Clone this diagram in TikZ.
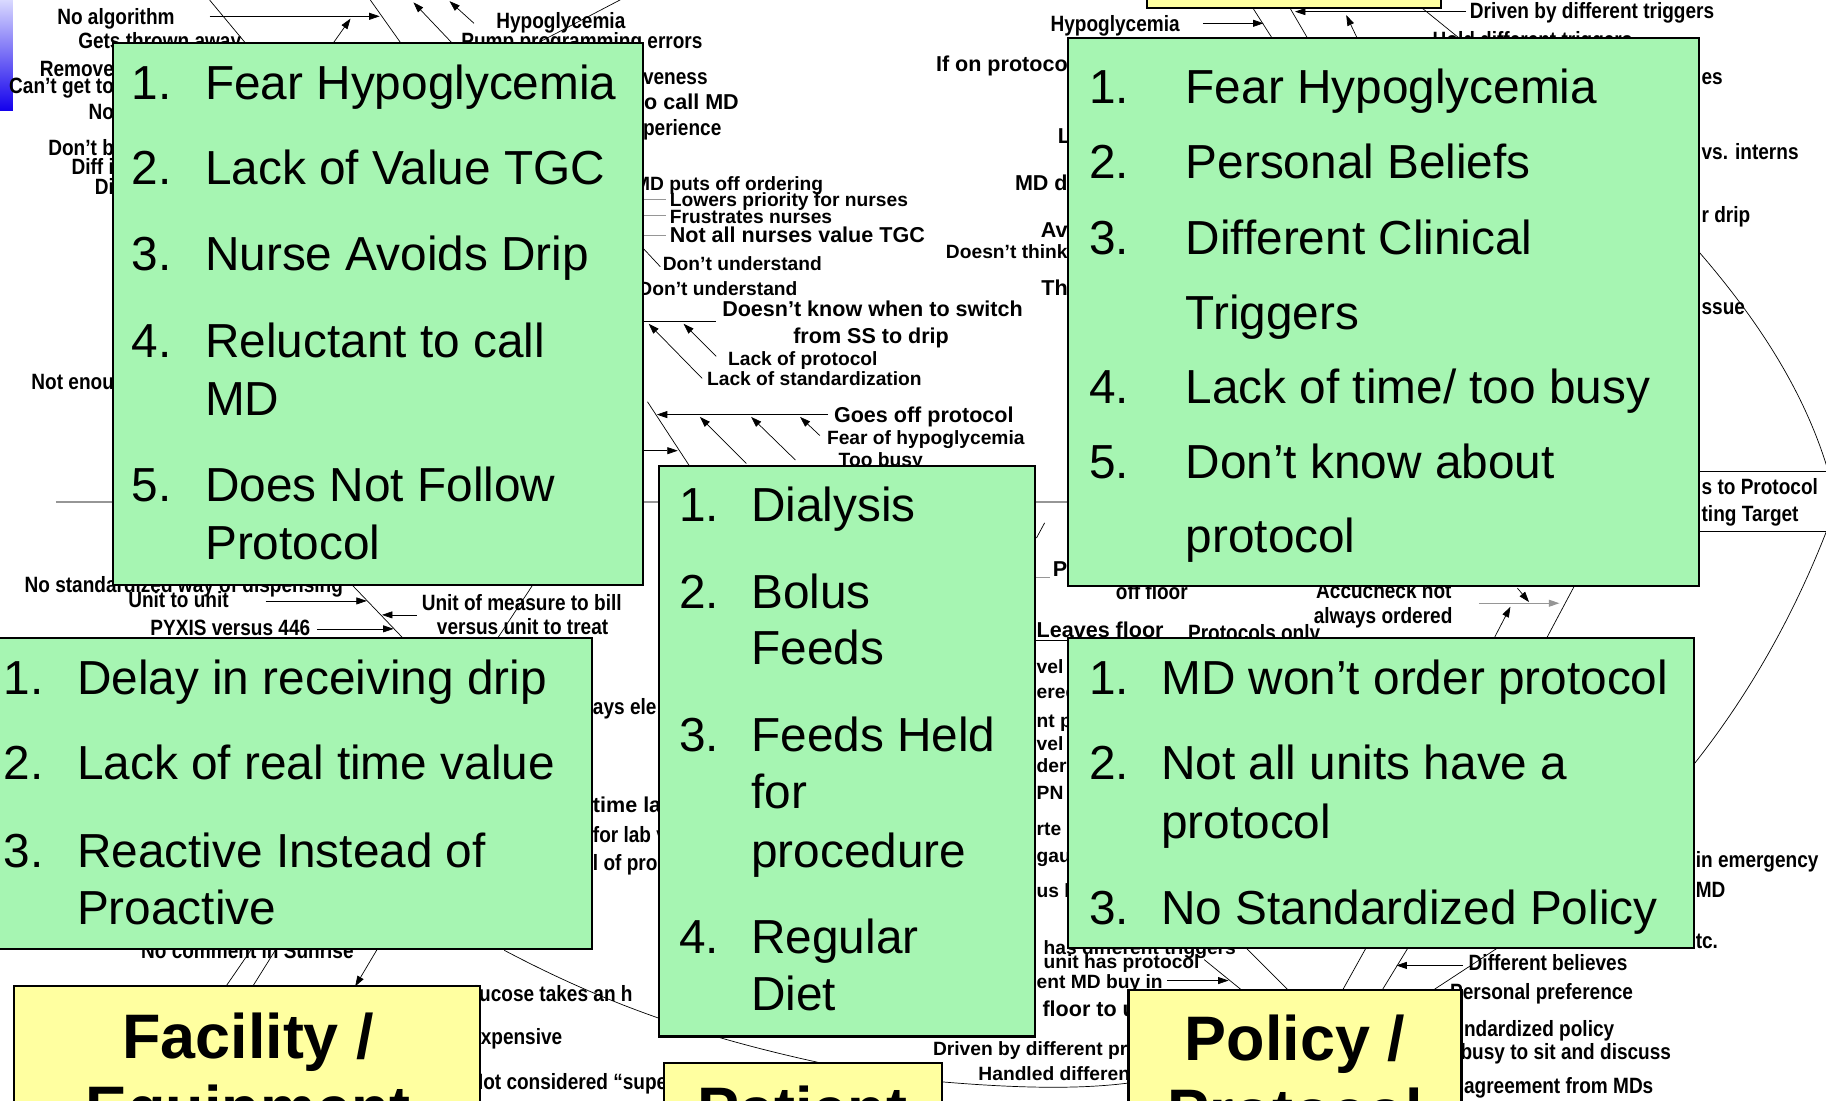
\documentclass[tikz,border=0pt]{standalone}
\usepackage{fontspec}
\setmainfont{Liberation Sans}
\newfontfamily\narrowsans[FakeStretch=0.86]{Liberation Sans}
\usetikzlibrary{arrows.meta,positioning}
\definecolor{boxgreen}{RGB}{166,245,178}
\definecolor{boxyellow}{RGB}{255,255,160}
\definecolor{spinegray}{RGB}{150,150,150}
\tikzset{
  list box/.style={draw=black,line width=1.8pt,fill=boxgreen},
  cat box/.style={draw=black,line width=1.8pt,fill=boxyellow},
  list line/.style={anchor=mid west,inner sep=0pt,font=\fontsize{41}{41}\selectfont},
  cat title/.style={anchor=base,inner sep=0pt,font=\bfseries\fontsize{54}{54}\selectfont},
  lbl/.style={anchor=mid west,inner sep=0pt,yshift=-4pt,font=\narrowsans\bfseries\fontsize{19}{19}\selectfont},
  wlbl/.style={anchor=mid west,inner sep=0pt,yshift=-4pt,font=\bfseries\fontsize{16.5}{16.5}\selectfont},
  blbl/.style={anchor=mid west,inner sep=0pt,yshift=-4pt,font=\bfseries\fontsize{18.5}{18.5}\selectfont},
  bone/.style={black,line width=0.6pt},
  bone arrow/.style={bone,-{Triangle[length=9pt,width=6pt]}},
  spine/.style={spinegray,line width=1pt},
}

\begin{document}
\begin{tikzpicture}[x=1pt,y=-1pt]
  \useasboundingbox (0,0) rectangle (1568,945);
  \clip (0,0) rectangle (1568,945);
  \fill[white] (0,0) rectangle (1568,945);
  \shade[top color=blue!15,bottom color=blue!85!violet] (0,0) rectangle (11,95);

  \draw[spine] (48,431) -- (1459,431);
  \draw[bone] (1459,405) -- (1568,405);
  \draw[bone] (1459,456) -- (1568,456);
  \draw[bone] (1440,195) .. controls (1490,250) and (1545,320) .. (1570,405);
  \draw[bone] (1570,452) .. controls (1540,530) and (1500,600) .. (1450,662);

  \draw[bone] (180,0) -- (230,60);
  \draw[bone] (318,0) -- (352,48);
  \draw[bone arrow] (180,14) -- (326,14);
  \draw[bone arrow] (284,40) -- (301,16);
  \draw[bone arrow] (393,42) -- (355,2);
  \draw[bone arrow] (407,20) -- (386,1);
  \draw[bone] (452,42) -- (540,-4);

  \draw[bone arrow] (1033,20) -- (1085,20);
  \draw[bone] (1074,4) -- (1097,40);
  \draw[bone] (1106,4) -- (1127,40);
  \draw[bone arrow] (1259,10) -- (1112,10);
  \draw[bone arrow] (1166,34) -- (1156,13);
  \draw[bone] (1220,6) -- (1262,40);

  \foreach \y in {171,185,202}{
    \draw[spine,line width=0.8pt] (552,\y) -- (572,\y);
  }
  \draw[bone] (553,214) -- (567,229);
  \draw[bone] (552,276) -- (615,276);
  \draw[bone arrow] (603,325) -- (557,278);
  \draw[bone arrow] (615,306) -- (587,278);
  \draw[bone] (556,345) -- (592,400);
  \draw[bone arrow] (711,356) -- (564,356);
  \draw[bone arrow] (641,398) -- (601,358);
  \draw[bone arrow] (683,395) -- (645,358);
  \draw[bone arrow] (704,374) -- (687,358);
  \draw[bone arrow] (552,387) -- (582,387);

  \draw[bone] (890,462) -- (897,449);
  \draw[spine,line width=0.8pt] (890,496) -- (902,496);
  \draw[bone] (889,550) -- (1000,550);
  \draw[spine,line width=0.8pt,-{Triangle[length=9pt,width=6pt]}] (1270,518) -- (1339,518);
  \draw[bone arrow] (1282,550) -- (1297,521);
  \draw[bone arrow] (1303,505) -- (1313,517);
  \draw[bone] (1327,550) -- (1352,503);

  \draw[bone] (1034,824) -- (1066,850);
  \draw[bone arrow] (1002,842) -- (1055,842);
  \draw[bone] (1070,814) -- (1106,850);
  \draw[bone] (1173,814) -- (1153,850);
  \draw[bone] (1209,814) -- (1187,850);
  \draw[bone] (1286,814) -- (1231,850);
  \draw[bone arrow] (1256,829) -- (1199,829);
  \draw[bone] (809,929) .. controls (880,935) and (930,935) .. (969,930);

  \draw[bone arrow] (228,516) -- (315,516);
  \draw[bone] (303,503) -- (348,550);
  \draw[bone arrow] (358,528) -- (328,528);
  \draw[bone arrow] (272,540) -- (338,540);
  \draw[bone] (426,550) -- (457,503);
  \draw[bone] (194,847) -- (216,815);
  \draw[bone] (217,847) -- (237,815);
  \draw[bone arrow] (324,815) -- (305,847);
  \draw[bone] (433,816) .. controls (520,862) and (600,890) .. (706,913);

  \node[lbl] (noalg) at (49,14) {No algorithm};
  \node[lbl] (thrown) at (67,35) {Gets thrown away};
  \node[lbl] (hypoa) at (426,18) {Hypoglycemia};
  \node[lbl] (pump) at (396,35) {Pump programming errors};
  \foreach \y/\t in {59/Remove,74/Can’t get to,96/No,127/Don’t b,143/Diff i,160/Di,328/Not enou}{
    \node[lbl,anchor=mid east] (left\y) at (98,\y) {\t};
  }
  \node[lbl] (aggr) at (552,66) {veness};
  \node[blbl] (callmd) at (553,87) {o call MD};
  \node[lbl] (exper) at (552,110) {perience};
  \node[wlbl,anchor=mid east] (mdputs) at (707,157) {MD puts off ordering};
  \node[wlbl] (lowers) at (575,171) {Lowers priority for nurses};
  \node[wlbl] (frust) at (575,185) {Frustrates nurses};
  \node[blbl] (notall) at (575,202) {Not all nurses value TGC};
  \node[wlbl] (dontu1) at (569,226) {Don’t understand};
  \node[wlbl] (dontu2) at (548,247) {Don’t understand};
  \node[blbl] (switch) at (620,265) {Doesn’t know when to switch};
  \node[blbl] (ssdrip) at (681,288) {from SS to drip};
  \node[wlbl] (lackp) at (625,307) {Lack of protocol};
  \node[wlbl] (lacks) at (607,324) {Lack of standardization};
  \node[blbl] (goesoff) at (716,356) {Goes off protocol};
  \node[wlbl] (fearh) at (710,375) {Fear of hypoglycemia};
  \node[wlbl] (toobusy) at (720,394) {Too busy};

  \node[lbl] (hypob) at (902,20) {Hypoglycemia};
  \node[lbl] (drivtrig) at (1262,9) {Driven by different triggers};
  \node[lbl] (holdtrig) at (1230,34) {Hold different triggers};
  \node[blbl,anchor=mid east] (onprot) at (917,55) {If on protoco};
  \node[blbl,anchor=mid east] (fragl) at (920,117) {L};
  \node[blbl,anchor=mid east] (mdd) at (917,157) {MD d};
  \node[blbl,anchor=mid east] (av) at (917,197) {Av};
  \node[wlbl,anchor=mid east] (think) at (917,215) {Doesn’t think};
  \node[blbl,anchor=mid east] (th) at (917,247) {Th};
  \foreach \y/\t in {66/es,130/vs. interns,184/r drip,263/ssue,418/s to Protocol,441/ting Target}{
    \node[lbl] (right\y) at (1461,\y) {\t};
  }

  \node[blbl] (fragp) at (904,488) {P};
  \node[lbl] (offfloor) at (958,508) {off floor};
  \node[lbl] (accu) at (1130,507) {Accucheck not};
  \node[lbl] (always) at (1128,529) {always ordered};
  \node[blbl] (leaves) at (890,541) {Leaves floor};
  \node[lbl] (protonly) at (1020,543) {Protocols only};
  \foreach \y/\t in {572/vel r,593/ered,618/nt p,638/vel r,657/dere,680/PN,711/rte,734/gaug,764/us b}{
    \node[wlbl] (mid\y) at (890,\y) {\t};
  }
  \node[wlbl] (hasdiff) at (896,813) {has different triggers};
  \node[wlbl] (unithas) at (896,825) {unit has protocol};
  \node[wlbl] (buyin) at (890,842) {ent MD buy in};
  \node[blbl] (floorto) at (895,866) {floor to unit};
  \node[wlbl] (drivpr) at (801,900) {Driven by different pr};
  \node[wlbl] (handled) at (840,921) {Handled differen};

  \node[lbl] (emerg) at (1456,738) {in emergency};
  \node[lbl] (emmd) at (1456,764) {MD};
  \node[lbl] (etc) at (1456,808) {tc.};
  \node[lbl] (believes) at (1261,827) {Different believes};
  \node[lbl] (personal) at (1245,852) {Personal preference};
  \node[lbl] (stdpol) at (1257,883) {ndardized policy};
  \node[lbl] (sitdisc) at (1254,903) {busy to sit and discuss};
  \node[lbl] (agree) at (1257,932) {agreement from MDs};

  \node[lbl] (dispense) at (21,502) {No standardized way of dispensing};
  \node[lbl] (unitunit) at (110,515) {Unit to unit};
  \node[lbl] (pyxis) at (129,539) {PYXIS versus 446};
  \node[lbl] (measure) at (362,518) {Unit of measure to bill};
  \node[lbl] (treat) at (375,538) {versus unit to treat};
  \node[lbl] (elev) at (509,607) {ays ele};
  \node[blbl] (timelag) at (509,691) {time la};
  \node[lbl] (labv) at (509,717) {for lab v};
  \node[lbl] (proa) at (509,741) {l of pro};
  \node[lbl] (sunrise) at (121,816) {No comment in Sunrise};
  \node[lbl] (stat) at (352,853) {STAT glucose takes an h};
  \node[lbl,anchor=mid east] (expens) at (483,890) {Expensive};
  \node[lbl] (superu) at (403,929) {Not considered “super};

  \draw[list box] (97,37) rectangle (552,502);
  \foreach \y/\n/\t in {72/1./Fear Hypoglycemia,145/2./Lack of Value TGC,219/3./Nurse Avoids Drip,293/4./Reluctant to call,343//MD,417/5./Does Not Follow,467//Protocol}{
    \node[list line] (ba-n\y) at (113,\y+11) {\n};
    \node[list line] (ba-t\y) at (176,\y+11) {\t};
  }
  \draw[list box] (917,33) rectangle (1459,503);
  \foreach \y/\n/\t in {75/1./Fear Hypoglycemia,140/2./Personal Beliefs,205/3./Different Clinical,269//Triggers,333/4./{Lack of time/ too busy},397/5./Don’t know about,461//protocol}{
    \node[list line] (bb-n\y) at (935,\y+11) {\n};
    \node[list line] (bb-t\y) at (1018,\y+11) {\t};
  }
  \draw[list box] (-5,548) rectangle (508,815);
  \foreach \y/\n/\t in {583/1./Delay in receiving drip,656/2./Lack of real time value,731/3./Reactive Instead of,780//Proactive}{
    \node[list line] (bc-n\y) at (3,\y+11) {\n};
    \node[list line] (bc-t\y) at (66,\y+11) {\t};
  }
  \draw[list box] (566,400) rectangle (889,890);
  \foreach \y/\n/\t in {434/1./Dialysis,509/2./Bolus,557//Feeds,632/3./Feeds Held,681//for,731//procedure,805/4./Regular,854//Diet}{
    \node[list line] (bd-n\y) at (583,\y+11) {\n};
    \node[list line] (bd-t\y) at (645,\y+11) {\t};
  }
  \draw[list box] (917,548) rectangle (1455,814);
  \foreach \y/\n/\t in {583/1./MD won’t order protocol,656/2./Not all units have a,706//protocol,780/3./No Standardized Policy}{
    \node[list line] (be-n\y) at (935,\y+11) {\n};
    \node[list line] (be-t\y) at (997,\y+11) {\t};
  }

  \draw[cat box] (985,-30) rectangle (1237,7);
  \draw[cat box] (12,847) rectangle (412,990);
  \node[cat title] (facility) at (213,909) {Facility /};
  \node[cat title] (equip) at (213,971) {Equipment};
  \draw[cat box] (570,913) rectangle (809,990);
  \node[cat title] (patient) at (689,972) {Patient};
  \draw[cat box] (969,850) rectangle (1255,990);
  \node[cat title] (policy) at (1112,911) {Policy /};
  \node[cat title] (protocol) at (1112,973) {Protocol};
\end{tikzpicture}
\end{document}
